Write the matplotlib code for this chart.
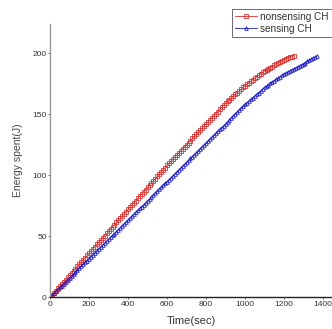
import numpy as np
import matplotlib
matplotlib.use("Agg")
import matplotlib.pyplot as plt

plt.rcParams['font.family'] = ['Liberation Sans', 'DejaVu Sans']

# energy spent (J), one reading every 10 s
t_nonsensing = np.arange(0, 1251, 10)
e_nonsensing = [
    0, 1.8, 3.6, 5.4, 7.2, 9.0, 10.8, 12.6, 14.4, 16.2, 18.0,
    19.8, 21.6, 23.4, 25.2, 27.0, 28.8, 30.6, 32.4, 34.2, 36.0,
    37.8, 39.6, 41.4, 43.2, 45.0, 46.8, 48.6, 50.4, 52.2, 54.0,
    55.8, 57.6, 59.4, 61.2, 63.0, 64.8, 66.6, 68.4, 70.2, 72.0,
    73.8, 75.6, 77.4, 79.2, 81.0, 82.8, 84.6, 86.4, 88.2, 90.0,
    91.8, 93.6, 95.4, 97.2, 99.0, 100.8, 102.6, 104.4, 106.2, 108.0,
    109.7, 111.4, 113.1, 114.8, 116.5, 118.2, 119.9, 121.6, 123.3, 125.0,
    126.7, 128.4, 130.1, 131.8, 133.5, 135.2, 136.9, 138.6, 140.3, 142.0,
    143.7, 145.4, 147.1, 148.8, 150.5, 152.2, 153.9, 155.6, 157.3, 159.0,
    160.5, 161.9, 163.4, 164.8, 166.3, 167.7, 169.2, 170.6, 172.1, 173.5,
    174.7, 175.9, 177.1, 178.3, 179.5, 180.7, 181.9, 183.1, 184.3, 185.5,
    186.4, 187.3, 188.2, 189.1, 190.0, 190.9, 191.8, 192.7, 193.6, 194.5,
    195.2, 195.9, 196.6, 197.3, 198.0,
]

t_sensing = np.arange(0, 1371, 10)
e_sensing = [
    0, 1.6, 3.2, 4.7, 6.3, 7.9, 9.5, 11.1, 12.6, 14.2, 15.8,
    17.4, 19.0, 20.5, 22.1, 23.7, 25.3, 26.9, 28.4, 30.0, 31.6,
    33.2, 34.8, 36.3, 37.9, 39.5, 41.1, 42.7, 44.2, 45.8, 47.4,
    49.0, 50.6, 52.1, 53.7, 55.3, 56.9, 58.5, 60.0, 61.6, 63.2,
    64.8, 66.4, 67.9, 69.5, 71.1, 72.7, 74.3, 75.8, 77.4, 79.0,
    80.6, 82.2, 83.7, 85.3, 86.9, 88.5, 90.1, 91.6, 93.2, 94.8,
    96.4, 98.0, 99.5, 101.1, 102.7, 104.3, 105.9, 107.4, 109.0, 110.6,
    112.2, 113.8, 115.3, 116.9, 118.5, 120.1, 121.7, 123.2, 124.8, 126.4,
    128.0, 129.6, 131.1, 132.7, 134.3, 135.9, 137.5, 139.0, 140.6, 142.2,
    143.8, 145.4, 146.9, 148.5, 150.1, 151.7, 153.3, 154.8, 156.4, 158.0,
    159.4, 160.8, 162.2, 163.6, 165.0, 166.4, 167.8, 169.2, 170.6, 172.0,
    173.1, 174.2, 175.3, 176.4, 177.5, 178.6, 179.7, 180.8, 181.9, 183.0,
    183.9, 184.7, 185.6, 186.4, 187.3, 188.1, 189.0, 189.8, 190.7, 191.5,
    192.4, 193.4, 194.3, 195.2, 196.1, 197.1, 198.0,
]

x_ticks = [0, 200, 400, 600, 800, 1000, 1200, 1400]
y_ticks = [0, 50, 100, 150, 200]

fig = plt.figure(figsize=(3.32, 3.29), dpi=100)
ax = fig.add_axes([0.151, 0.097, 0.849, 0.83])

ax.plot(t_nonsensing, e_nonsensing, color='#d83232', lw=0.6, marker='s',
        ms=2.4, mfc='none', mew=0.6, label='nonsensing CH')
ax.plot(t_sensing, e_sensing, color='#1c1cc4', lw=0.6, marker='^',
        ms=2.6, mfc='none', mew=0.6, label='sensing CH')

ax.set_xlim(0, 1446)
ax.set_ylim(0, 224)
ax.set_xticks(x_ticks)
ax.set_yticks(y_ticks)
ax.tick_params(labelsize=6, length=1.5, width=0.5, pad=1, colors='#333333')

for side in ['top', 'right']:
    ax.spines[side].set_visible(False)
ax.spines['left'].set_color('#999999')
ax.spines['bottom'].set_color('#222222')
ax.spines['left'].set_linewidth(1.0)
ax.spines['bottom'].set_linewidth(1.0)

ax.set_xlabel('Time(sec)', fontsize=8, color='#333333', labelpad=6)
ax.set_ylabel('Energy spent(J)', fontsize=7.5, color='#444444', labelpad=7)

leg = fig.legend(loc='upper left', bbox_to_anchor=(0.699, 0.973), fontsize=7.2,
                 frameon=True, fancybox=False, borderpad=0.3, handlelength=2.2,
                 handletextpad=0.3, labelspacing=0.2, borderaxespad=0)
leg.get_frame().set_edgecolor('#444444')
leg.get_frame().set_linewidth(0.7)
for txt in leg.get_texts():
    txt.set_color('#333333')

fig.savefig('out.png', dpi=100)
